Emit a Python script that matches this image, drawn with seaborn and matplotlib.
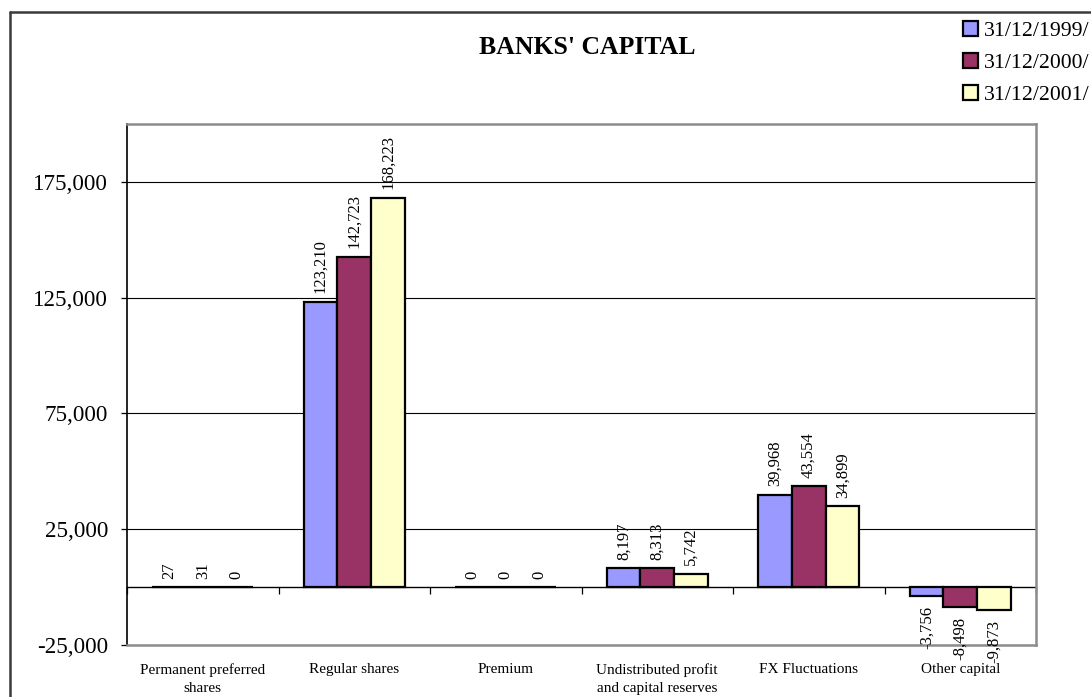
import matplotlib
matplotlib.use("Agg")
import matplotlib.pyplot as plt
from matplotlib.lines import Line2D
from matplotlib.ticker import FuncFormatter
import seaborn as sns
import pandas as pd

# Banks' capital by component, three reporting dates
categories = [
    "Permanent preferred\nshares",
    "Regular shares",
    "Premium",
    "Undistributed profit\nand capital reserves",
    "FX Fluctuations",
    "Other capital",
]
periods = ["31/12/1999/", "31/12/2000/", "31/12/2001/"]
values_1999 = [27, 123210, 0, 8197, 39968, -3756]
values_2000 = [31, 142723, 0, 8313, 43554, -8498]
values_2001 = [0, 168223, 0, 5742, 34899, -9873]
y_ticks = [-25000, 25000, 75000, 125000, 175000]
colors = ["#9999FF", "#993366", "#FFFFCC"]

records = []
for period, vals in zip(periods, [values_1999, values_2000, values_2001]):
    for cat, v in zip(categories, vals):
        records.append({"category": cat, "period": period, "value": v})
df = pd.DataFrame(records)

sns.set_theme(style="white")
plt.rcParams["font.family"] = ["Liberation Serif", "DejaVu Serif"]
plt.rcParams["text.color"] = "black"
plt.rcParams["axes.labelcolor"] = "black"
plt.rcParams["xtick.color"] = "black"
plt.rcParams["ytick.color"] = "black"

W, H = 1091, 697
fig = plt.figure(figsize=(W / 100, H / 100), dpi=100)
fig.patch.set_facecolor("white")

left, right, top, bottom = 127, 1036, 124, 645
ax = fig.add_axes([left / W, 1 - bottom / H, (right - left) / W, (bottom - top) / H])

sns.barplot(
    data=df, x="category", y="value", hue="period",
    order=categories, hue_order=periods, palette=colors,
    width=2 / 3, gap=0, edgecolor="black", linewidth=1.6,
    errorbar=None, saturation=1, ax=ax,
)

ymin, ymax = -25000, 200000
ax.set_ylim(ymin, ymax)
ax.set_xlim(-0.5, len(categories) - 0.5)
ax.set_yticks(y_ticks)
ax.yaxis.set_major_formatter(FuncFormatter(lambda v, p: f"{v:,.0f}"))
ax.yaxis.grid(True, color="black", linewidth=0.8)
ax.set_axisbelow(True)
ax.set_xlabel("")
ax.set_ylabel("")

ax.tick_params(axis="y", which="both", direction="out", length=4.5, width=0.9,
               color="black", labelcolor="black", pad=9, labelsize=16.6, left=True)
ax.tick_params(axis="x", length=0, pad=13, labelsize=11, labelcolor="black")
for lbl in ax.get_xticklabels():
    lbl.set_linespacing(1.55)

for side in ["top", "right", "bottom"]:
    ax.spines[side].set_color("#8c8c8c")
    ax.spines[side].set_linewidth(1.8)
ax.spines["left"].set_color("black")
ax.spines["left"].set_linewidth(1.2)

# category axis line at zero with boundary ticks
zero_axis = ax.secondary_xaxis((0 - ymin) / (ymax - ymin))
zero_axis.set_xticks([i - 0.5 for i in range(len(categories) + 1)])
zero_axis.tick_params(direction="out", length=5, width=0.9, color="black",
                      labelbottom=False, labeltop=False)
zero_axis.spines["bottom"].set_color("black")
zero_axis.spines["bottom"].set_linewidth(1.0)

# rotated value labels
for container, vals in zip(ax.containers, [values_1999, values_2000, values_2001]):
    for patch, v in zip(container.patches, vals):
        xc = patch.get_x() + patch.get_width() / 2
        up = v >= 0
        ax.annotate(
            f"{v:,}", xy=(xc, v), xytext=(0, 6 if up else -7.5),
            textcoords="offset points", rotation=90,
            ha="center", va="bottom" if up else "top",
            fontsize=12, color="black", annotation_clip=False,
        )

handles, labels = ax.get_legend_handles_labels()
ax.get_legend().remove()
for h in handles:
    h.set_edgecolor("black")
    h.set_linewidth(1.6)

# outer chart frame
fig.add_artist(Line2D([10 / W, 10 / W], [0, 1 - 12 / H], color="#3a3a3a",
                      linewidth=1.8, transform=fig.transFigure))
fig.add_artist(Line2D([10 / W, 1], [1 - 12 / H, 1 - 12 / H], color="#3a3a3a",
                      linewidth=1.8, transform=fig.transFigure))

leg = fig.legend(
    handles, labels, loc="upper left",
    bbox_to_anchor=(958 / W, 1 - 16 / H),
    fontsize=15.7, frameon=True, fancybox=False, framealpha=1,
    handlelength=0.65, handleheight=0.65, handletextpad=0.3,
    labelspacing=0.55, borderpad=0.25, borderaxespad=0,
)
leg.get_frame().set_facecolor("white")
leg.get_frame().set_edgecolor("none")
leg.set_zorder(10)
for t in leg.get_texts():
    t.set_color("black")

fig.text(587 / W, 1 - 47 / H, "BANKS' CAPITAL", ha="center", va="center",
         fontsize=18.5, fontweight="bold", color="black")

fig.savefig("out.png", dpi=100)
